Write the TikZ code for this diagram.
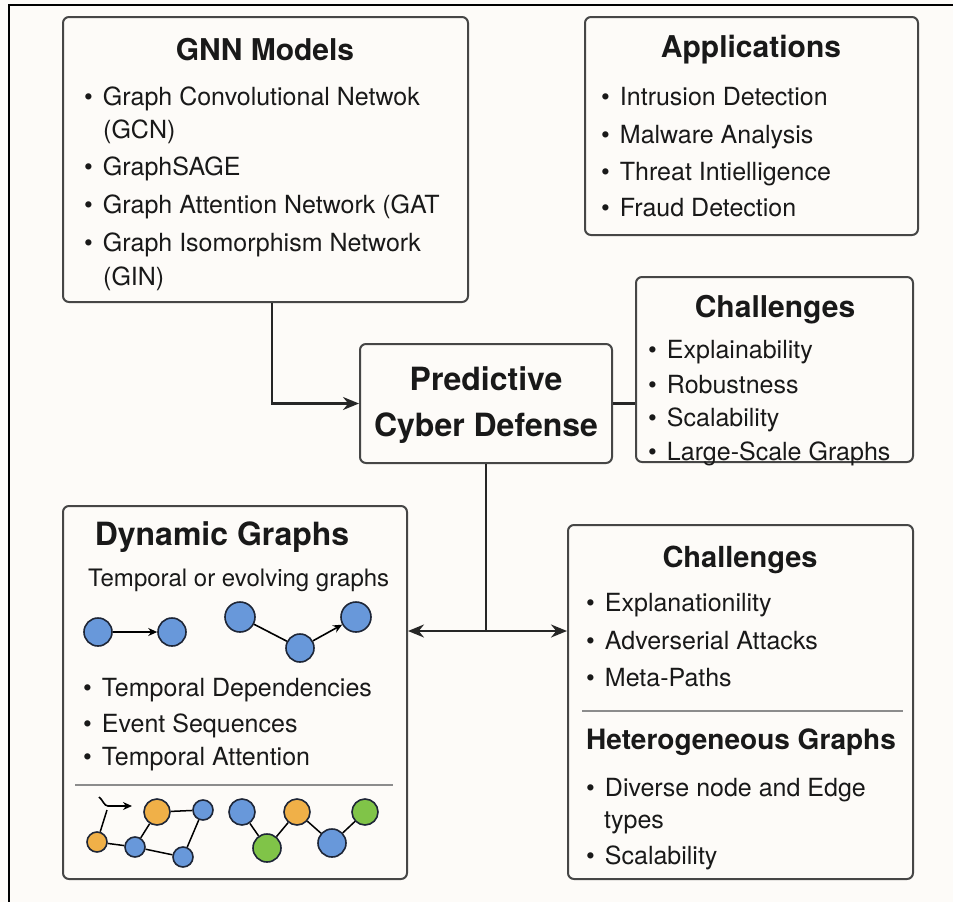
\documentclass[tikz,border=0pt]{standalone}
\usepackage{fontspec}
\setmainfont{TeX Gyre Heros}
\usetikzlibrary{arrows.meta, positioning, calc}
\definecolor{PaperCream}{RGB}{253, 251, 248}
\definecolor{InkGray}{RGB}{70, 70, 70}
\definecolor{RuleGray}{RGB}{140, 140, 140}
\definecolor{NodeBlue}{RGB}{104, 152, 218}
\definecolor{NodeOrange}{RGB}{240, 176, 72}
\definecolor{NodeGreen}{RGB}{128, 196, 72}
\definecolor{NodeRim}{RGB}{30, 38, 55}
\newcommand{\itembul}{\textbullet\hspace{10pt}}

\begin{document}
\begin{tikzpicture}[x=1pt, y=-1pt,
    panel/.style={draw=InkGray, line width=2pt, rounded corners=6pt, inner sep=0pt},
    ttl/.style={font=\bfseries\fontsize{30}{36}\selectfont, text=black!90},
    itm/.style={anchor=west, inner sep=0pt, text height=18pt, text depth=5pt, font=\fontsize{25}{30}\selectfont, text=black!90},
    gnode/.style={circle, draw=NodeRim, line width=1.6pt, inner sep=0pt, minimum size=#1},
    conn/.style={line width=2.2pt, draw=black!85},
    arr/.style={-{Stealth[length=16pt, width=13pt]}}]
    \useasboundingbox[fill=PaperCream] (0,0) rectangle (953,902);
    \draw[line width=2pt] (9,902) -- (9,5) -- (953,5);

    % boxes
    \node[panel, minimum width=405pt, minimum height=285pt] (gnn) at (265.5,159.5) {};
    \node[panel, minimum width=333pt, minimum height=218pt] (apps) at (751.5,126) {};
    \node[panel, minimum width=277pt, minimum height=185pt] (chal) at (774.5,369.5) {};
    \node[panel, minimum width=252pt, minimum height=119pt] (pcd) at (486,403.5) {};
    \node[panel, minimum width=344pt, minimum height=373pt] (dyn) at (235,692.5) {};
    \node[panel, minimum width=345pt, minimum height=354pt] (hetc) at (740.5,702) {};

    % GNN models
    \node[ttl] (gnnT) at (265,50) {GNN Models};
    \node[itm] (g1) at (84,99) {\itembul Graph Convolutional Netwok};
    \node[itm] (g1b) at (103,132) {(GCN)};
    \node[itm] (g2) at (84,169) {\itembul GraphSAGE};
    \node[itm] (g3) at (84,207) {\itembul Graph Attention Network (GAT};
    \node[itm] (g4) at (84,245) {\itembul Graph Isomorphism Network};
    \node[itm] (g4b) at (103,279) {(GIN)};

    % applications
    \node[ttl] (appsT) at (751,50) {Applications};
    \node[itm] (a1) at (601,99) {\itembul Intrusion Detection};
    \node[itm] (a2) at (601,137) {\itembul Malware Analysis};
    \node[itm] (a3) at (601,174) {\itembul Threat Intielligence};
    \node[itm] (a4) at (601,210) {\itembul Fraud Detection};

    % challenges (top)
    \node[ttl] (chalT) at (775,310) {Challenges};
    \node[itm] (c1) at (648,352) {\itembul Explainability};
    \node[itm] (c2) at (648,387) {\itembul Robustness};
    \node[itm] (c3) at (648,420) {\itembul Scalability};
    \node[itm] (c4) at (648,454) {\itembul Large-Scale Graphs};

    % center
    \node[font=\bfseries\fontsize{32}{46}\selectfont, align=center, text=black!90] (pcdT) at (486,405) {Predictive\\Cyber Defense};

    % dynamic graphs
    \node[ttl, font=\bfseries\fontsize{32}{38}\selectfont] (dynT) at (222,537) {Dynamic Graphs};
    \node[itm, font=\fontsize{24}{28}\selectfont] (dynS) at (88,580) {Temporal or evolving graphs};
    \node[gnode=28pt, fill=NodeBlue] (d1) at (98,632) {};
    \node[gnode=28pt, fill=NodeBlue] (d2) at (172,632) {};
    \node[gnode=30pt, fill=NodeBlue] (d3) at (240,617) {};
    \node[gnode=28pt, fill=NodeBlue] (d4) at (300,648) {};
    \node[gnode=30pt, fill=NodeBlue] (d5) at (356,617) {};
    \draw[line width=1.6pt, -{Stealth[length=9pt, width=8pt]}] (d1) -- (d2);
    \draw[line width=1.6pt] (d3) -- (d4);
    \draw[line width=1.6pt, -{Stealth[length=9pt, width=8pt]}] (d4) -- (d5);
    \node[itm] (t1) at (83,690) {\itembul Temporal Dependencies};
    \node[itm] (t2) at (83,726) {\itembul Event Sequences};
    \node[itm] (t3) at (83,759) {\itembul Temporal Attention};
    \draw[RuleGray, line width=2pt] (75,785) -- (393,785);

    % small graphs
    \coordinate (hk) at (107,810);
    \draw[line width=1.6pt, -{Stealth[length=9pt, width=8pt]}] (99,797) .. controls (103,800) and (104,806) .. (108,806) -- (132,806);
    \node[gnode=20pt, fill=NodeOrange] (s1) at (97,842) {};
    \node[gnode=26pt, fill=NodeOrange] (s2) at (157,812) {};
    \node[gnode=20pt, fill=NodeBlue] (s3) at (203,810) {};
    \node[gnode=20pt, fill=NodeBlue] (s4) at (135,847) {};
    \node[gnode=20pt, fill=NodeBlue] (s5) at (183,857) {};
    \draw[line width=1.5pt] (s1) -- (hk);
    \draw[line width=1.5pt] (s1) -- (s4) -- (s2) -- (s3) -- (s5) -- (s4);
    \node[gnode=26pt, fill=NodeBlue] (r1) at (242,812) {};
    \node[gnode=28pt, fill=NodeGreen] (r2) at (267,848) {};
    \node[gnode=26pt, fill=NodeOrange] (r3) at (297,812) {};
    \node[gnode=28pt, fill=NodeBlue] (r4) at (332,843) {};
    \node[gnode=26pt, fill=NodeGreen] (r5) at (365,812) {};
    \draw[line width=1.5pt] (r1) -- (r2) -- (r3) -- (r4) -- (r5);

    % challenges (bottom) + heterogeneous
    \node[ttl, font=\bfseries\fontsize{29}{34}\selectfont] (hetcT) at (740,560) {Challenges};
    \node[itm] (h1) at (586,605) {\itembul Explanationility};
    \node[itm] (h2) at (586,643) {\itembul Adverserial Attacks};
    \node[itm] (h3) at (586,680) {\itembul Meta-Paths};
    \draw[RuleGray, line width=2pt] (582,711) -- (903,711);
    \node[ttl, font=\bfseries\fontsize{28}{34}\selectfont] (hetT) at (741,742) {Heterogeneous Graphs};
    \node[itm] (h4) at (586,790) {\itembul Diverse node and Edge};
    \node[itm] (h4b) at (604,822) {types};
    \node[itm] (h5) at (586,858) {\itembul Scalability};

    % connectors
    \draw[conn, arr] ([xshift=6.5pt]gnn.south) |- (pcd.west);
    \draw[conn] (pcd.east) -- (chal.west |- pcd.east);
    \coordinate (hub) at (pcd.south |- 0,631);
    \draw[conn] (pcd.south) -- (hub);
    \draw[conn, {Stealth[length=16pt, width=13pt]}-{Stealth[length=16pt, width=13pt]}] (dyn.east |- hub) -- (hetc.west |- hub);
\end{tikzpicture}
\end{document}
